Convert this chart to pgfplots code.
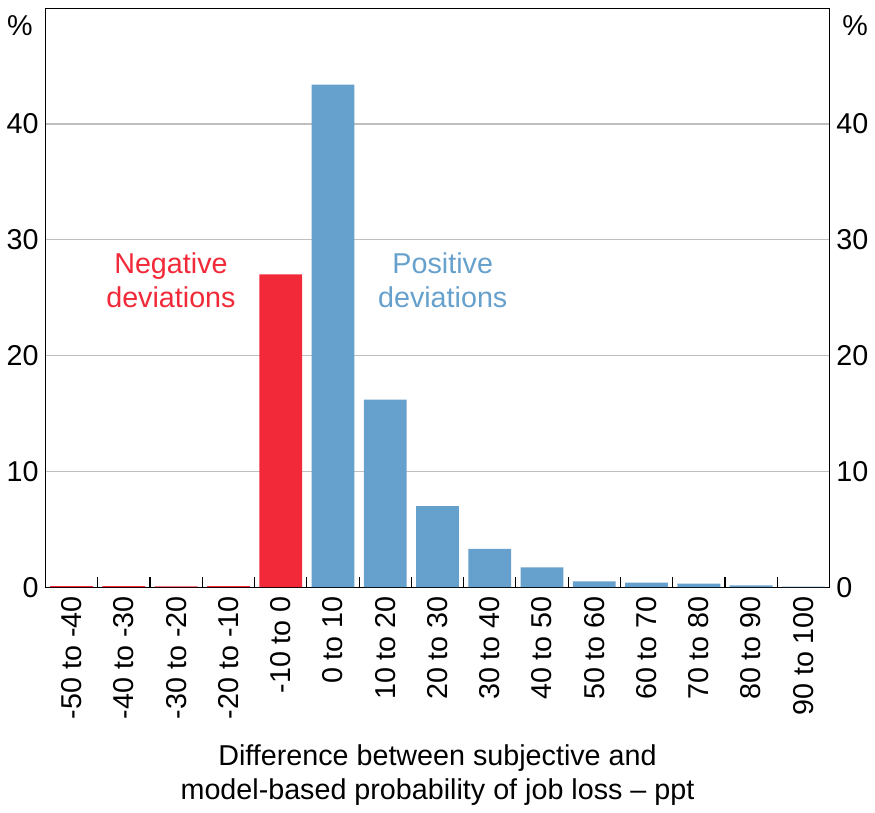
\documentclass[border=0pt]{standalone}
\usepackage{pgfplots}
\pgfplotsset{compat=1.18}
\usepackage{fontspec}
\setmainfont{Liberation Sans}
\definecolor{negred}{RGB}{241,41,56}
\definecolor{posblue}{RGB}{102,160,204}
\begin{document}
\begin{tikzpicture}
\pgfplotsset{
  myaxis/.style={
    scale only axis, width=396pt, height=292.5pt,
    xmin=-0.5, xmax=14.5, ymin=0, ymax=50,
    ytick={0,10,20,30,40},
    major tick length=0pt,
    /pgf/number format/assume math mode=true,
    tick label style={font=\fontsize{14.5}{17}\selectfont},
    label style={font=\fontsize{14.5}{17.5}\selectfont},
  }
}
\begin{axis}[myaxis,
  ymajorgrids, grid style={gray!50, line width=0.6pt},
  xtick={0,...,14},
  xticklabels={-50 to -40,-40 to -30,-30 to -20,-20 to -10,-10 to 0,0 to 10,10 to 20,20 to 30,30 to 40,40 to 50,50 to 60,60 to 70,70 to 80,80 to 90,90 to 100},
  x tick label style={rotate=90, anchor=east, xshift=-1pt},
  minor xtick={0.5,1.5,...,13.5},
  minor tick length=5pt,
  xtick pos=bottom, ytick pos=left,
  tick style={black, line width=0.6pt},
  xlabel={Difference between subjective and\\model-based probability of job loss -- ppt},
  xlabel style={align=center, yshift=-6pt},
  axis line style={line width=0.6pt},
  clip=false,
]
\addplot[ybar, bar width=0.82, bar shift=0pt, fill=negred, draw=none] coordinates {
 (0,0.1) (1,0.1) (2,0.06) (3,0.1) (4,27.0)
};
\addplot[ybar, bar width=0.82, bar shift=0pt, fill=posblue, draw=none] coordinates {
 (5,43.4) (6,16.2) (7,7.0) (8,3.3) (9,1.7) (10,0.5) (11,0.4) (12,0.3) (13,0.15) (14,0.05)
};
\node[text=negred, align=center, font=\fontsize{14.5}{17.5}\selectfont] at (axis cs:1.9,26.5) {Negative\\deviations};
\node[text=posblue, align=center, font=\fontsize{14.5}{17.5}\selectfont] at (axis cs:7.1,26.5) {Positive\\deviations};
\node[anchor=east, font=\fontsize{14.5}{17}\selectfont, xshift=-3pt] at (axis cs:-0.5,48.5) {\%};
\node[anchor=west, font=\fontsize{14.5}{17}\selectfont, xshift=3pt] at (axis cs:14.5,48.5) {\%};
\path (rel axis cs:0,1) ++(0,4pt) coordinate (topmargin);
\fill[white, opacity=0] (topmargin) circle (0.1pt);
\end{axis}
\begin{axis}[myaxis,
  axis y line*=right, axis x line=none,
  yticklabel pos=right,
  axis line style={draw=none},
]
\addplot[draw=none] coordinates {(0,0)};
\end{axis}
\end{tikzpicture}
\end{document}
